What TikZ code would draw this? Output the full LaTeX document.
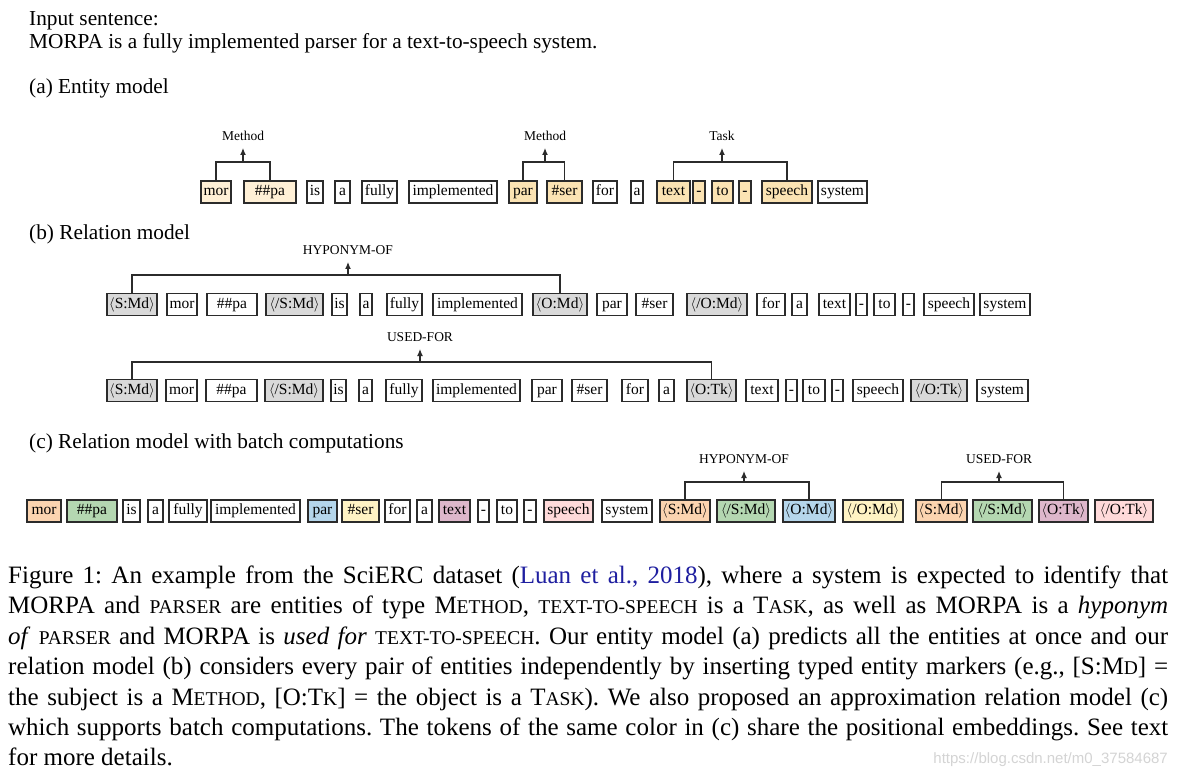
\documentclass[tikz,border=0pt]{standalone}
\usepackage{fontspec}
\setmainfont{Liberation Serif}
\newfontfamily\wmfont{Liberation Sans}
\usetikzlibrary{arrows.meta, positioning}
\definecolor{tokline}{HTML}{2b2b2b}
\definecolor{entlight}{HTML}{fff0d6}
\definecolor{entdark}{HTML}{fbe3b3}
\definecolor{markgray}{HTML}{d9d9d9}
\definecolor{cpeach}{HTML}{fbd4b0}
\definecolor{cgreen}{HTML}{b4d7b1}
\definecolor{cblue}{HTML}{b5d6eb}
\definecolor{cyellow}{HTML}{fff3c4}
\definecolor{cmauve}{HTML}{ddb7cb}
\definecolor{cpink}{HTML}{ffdada}
\definecolor{citeblue}{HTML}{1f1fa0}
\definecolor{wmgray}{HTML}{d4d4d4}
\newcommand{\sMd}{$\langle$S:Md$\rangle$}
\newcommand{\sMdEnd}{$\langle$/S:Md$\rangle$}
\newcommand{\oMd}{$\langle$O:Md$\rangle$}
\newcommand{\oMdEnd}{$\langle$/O:Md$\rangle$}
\newcommand{\oTk}{$\langle$O:Tk$\rangle$}
\newcommand{\oTkEnd}{$\langle$/O:Tk$\rangle$}
\newcommand{\fsc}[1]{{\fontsize{19.5pt}{19.5pt}\selectfont #1}}
\newcommand{\citeb}[1]{\textcolor{citeblue}{#1}}
\frenchspacing

\begin{document}
\begin{tikzpicture}[x=1pt, y=-1pt,
    tok/.style={draw=tokline, line width=1.1pt, inner sep=0pt, minimum height=22pt,
                text height=10.5pt, text depth=3pt, font=\fontsize{15.5}{18}\selectfont},
    rlabel/.style={inner sep=0pt, text depth=0pt, font=\fontsize{13.5}{16}\selectfont},
    brk/.style={draw=tokline, line width=1.2pt},
    arr/.style={brk, -{Latex[length=7pt,width=6pt]}, shorten >=7pt},
    heading/.style={anchor=base west, inner sep=0pt, font=\fontsize{21.3}{23}\selectfont},
    capline/.style={anchor=base west, inner sep=0pt, font=\fontsize{25}{30}\selectfont}]
  \fill[white] (0,0) rectangle (1177,775);
  \useasboundingbox (0,0) rectangle (1177,775);

  \node[heading] (insent) at (29,26) {Input sentence:};
  \node[heading] (insentb) at (29,49) {MORPA is a fully implemented parser for a text-to-speech system.};
  \node[heading] (heada) at (29,94) {(a) Entity model};
  \node[heading] (headb) at (29,240) {(b) Relation model};
  \node[heading] (headc) at (29,448) {(c) Relation model with batch computations};

  % (a) entity model
  \foreach \xa/\xb/\word/\fc [count=\i] in {201/231/mor/entlight, 244/296/\#\#pa/entlight,
      307/323/is/white, 335/350/a/white, 362/397/fully/white, 409/497/implemented/white,
      509/537/par/entdark, 547/582/\#ser/entdark, 593/617/for/white, 631/643/a/white,
      657/690/text/entdark, 693/705/-/entdark, 712/733/to/entdark, 739/751/-/entdark,
      762/812/speech/entdark, 818/867/system/white}
    \node[tok, fill=\fc, minimum width={(\xb-\xa)*1pt}] (a\i) at ({(\xa+\xb)/2},192) {\word};

  \coordinate (ma1) at (243,162);
  \coordinate (ma2) at (545,162);
  \coordinate (ma3) at (722,162);
  \draw[brk] (a1.north) |- (ma1) -| (a2.north);
  \draw[brk] (a7.north) |- (ma2) -| (a8.north);
  \draw[brk] (a11.north) |- (ma3) -| (a15.north);
  \node[rlabel, above=21pt of ma1] (la1) {Method};
  \node[rlabel, above=21pt of ma2] (la2) {Method};
  \node[rlabel, above=21pt of ma3] (la3) {Task};
  \foreach \k in {1,2,3}
    \draw[arr] (ma\k) -- (la\k.south);

  % (b) relation model, two pairs
  \foreach \xa/\xb/\word/\fc [count=\i] in {107/157/\sMd/markgray, 167/197/mor/white,
      207/257/\#\#pa/white, 266/323/\sMdEnd/markgray, 332/347/is/white, 360/372/a/white,
      387/422/fully/white, 433/522/implemented/white, 533/587/\oMd/markgray,
      597/627/par/white, 636/673/\#ser/white, 687/747/\oMdEnd/markgray, 757/785/for/white,
      792/807/a/white, 819/850/text/white, 856/867/-/white, 874/895/to/white,
      903/914/-/white, 924/974/speech/white, 980/1030/system/white}
    \node[tok, fill=\fc, minimum width={(\xb-\xa)*1pt}] (b\i) at ({(\xa+\xb)/2},304.5) {\word};

  \foreach \xa/\xb/\word/\fc [count=\i] in {107/157/\sMd/markgray, 166/197/mor/white,
      206/257/\#\#pa/white, 265/323/\sMdEnd/markgray, 331/346/is/white, 359/372/a/white,
      386/422/fully/white, 433/520/implemented/white, 532/562/par/white,
      572/607/\#ser/white, 622/648/for/white, 659/674/a/white, 687/736/\oTk/markgray,
      746/778/text/white, 786/797/-/white, 803/825/to/white, 832/843/-/white,
      853/903/speech/white, 911/967/\oTkEnd/markgray, 977/1028/system/white}
    \node[tok, fill=\fc, minimum width={(\xb-\xa)*1pt}] (q\i) at ({(\xa+\xb)/2},390.5) {\word};

  \coordinate (mb1) at (348,275);
  \coordinate (mb2) at (420,362);
  \draw[brk] (b1.north) |- (mb1) -| (b9.north);
  \draw[brk] (q1.north) |- (mb2) -| (q13.north);
  \node[rlabel, above=20pt of mb1] (lb1) {HYPONYM-OF};
  \node[rlabel, above=20pt of mb2] (lb2) {USED-FOR};
  \draw[arr] (mb1) -- (lb1.south);
  \draw[arr] (mb2) -- (lb2.south);

  % (c) batch computations
  \foreach \xa/\xb/\word/\fc [count=\i] in {27/61/mor/cpeach, 67/117/\#\#pa/cgreen,
      123/140/is/white, 148/163/a/white, 169/207/fully/white, 211/300/implemented/white,
      308/337/par/cblue, 342/379/\#ser/cyellow, 385/410/for/white, 417/432/a/white,
      439/470/text/cmauve, 478/489/-/white, 497/517/to/white, 524/536/-/white,
      544/593/speech/cpink, 602/652/system/white, 660/710/\sMd/cpeach,
      717/775/\sMdEnd/cgreen, 783/835/\oMd/cblue, 843/903/\oMdEnd/cyellow,
      916/967/\sMd/cpeach, 973/1032/\sMdEnd/cgreen, 1039/1088/\oTk/cmauve,
      1095/1153/\oTkEnd/cpink}
    \node[tok, fill=\fc, minimum width={(\xb-\xa)*1pt}] (c\i) at ({(\xa+\xb)/2},511) {\word};

  \coordinate (mc1) at (744,482);
  \coordinate (mc2) at (999,482);
  \draw[brk] (c17.north) |- (mc1) -| (c19.north);
  \draw[brk] (c21.north) |- (mc2) -| (c23.north);
  \node[rlabel, above=18pt of mc1] (lc1) {HYPONYM-OF};
  \node[rlabel, above=18pt of mc2] (lc2) {USED-FOR};
  \draw[arr] (mc1) -- (lc1.south);
  \draw[arr] (mc2) -- (lc2.south);

  % caption
  \node[capline] (cap1) at (8,583) {\makebox[1160pt][s]{Figure 1: An example from the SciERC dataset (\citeb{Luan et al., 2018}), where a system is expected to identify that}};
  \node[capline] (cap2) at (8,613) {\makebox[1160pt][s]{MORPA and \fsc{PARSER} are entities of type M\fsc{ETHOD}, \fsc{TEXT-TO-SPEECH} is a T\fsc{ASK}, as well as MORPA is a \textit{hyponym}}};
  \node[capline] (cap3) at (8,644) {\makebox[1160pt][s]{\textit{of} \fsc{PARSER} and MORPA is \textit{used for} \fsc{TEXT-TO-SPEECH}. Our entity model (a) predicts all the entities at once and our}};
  \node[capline] (cap4) at (8,674) {\makebox[1160pt][s]{relation model (b) considers every pair of entities independently by inserting typed entity markers (e.g., [S:M\fsc{D}] =}};
  \node[capline] (cap5) at (8,705) {\makebox[1160pt][s]{the subject is a M\fsc{ETHOD}, [O:T\fsc{K}] = the object is a T\fsc{ASK}). We also proposed an approximation relation model (c)}};
  \node[capline] (cap6) at (8,735) {\makebox[1160pt][s]{which supports batch computations. The tokens of the same color in (c) share the positional embeddings. See text}};
  \node[capline] (cap7) at (8,765) {for more details.};
  \node[anchor=base east, inner sep=0pt, text=wmgray, font=\wmfont\fontsize{15}{18}\selectfont] (wmark) at (1168,763) {https://blog.csdn.net/m0\_37584687};
\end{tikzpicture}
\end{document}
